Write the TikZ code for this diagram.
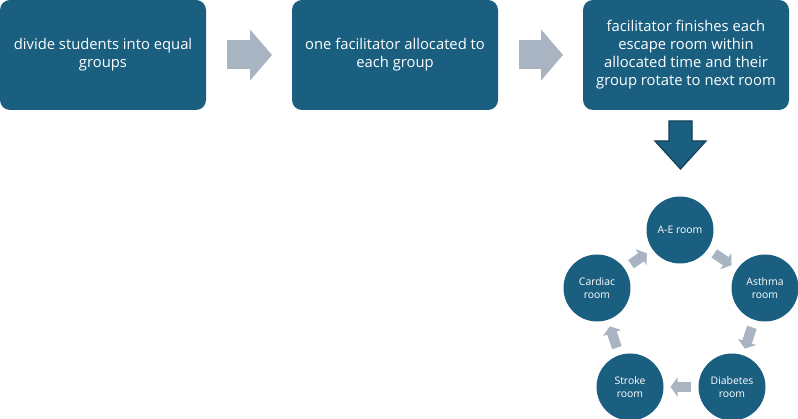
\documentclass[tikz,border=0pt]{standalone}
\usepackage{fontspec}
\setmainfont{Open Sans}
\usetikzlibrary{arrows.meta,calc,positioning}
\definecolor{RoomFill}{HTML}{1B5F80}
\definecolor{RoomEdge}{HTML}{123F56}
\definecolor{RoomArrow}{HTML}{A8B4C2}
\tikzset{
    room/diagram/.style={
        x=1pt, y=-1pt,
        every node/.style={inner sep=0pt, outer sep=0pt}
    },
    room/stepbox/.style={
        fill=RoomFill, draw=none, text=white, rounded corners=10pt,
        minimum width=206pt, minimum height=110pt, align=center,
        font=\fontsize{14.8}{18}\selectfont
    },
    room/station/.style={
        circle, fill=RoomFill, draw=none, text=white,
        minimum size=67pt, align=center,
        font=\fontsize{10.4}{12.5}\selectfont
    },
    room/flow/.style={
        draw=RoomArrow, line width=29pt, line cap=butt,
        -{Triangle[length=22pt, width=50pt]},
        shorten <=21pt, shorten >=20pt
    },
    room/turn/.style={
        draw=RoomArrow, line width=10pt, line cap=butt,
        -{Triangle[length=7pt, width=19pt]},
        shorten <=8pt, shorten >=7pt
    },
    room/down/.style={
        fill=RoomFill, draw=RoomEdge, line width=1.2pt, line join=miter
    }
}
\begin{document}
\begin{tikzpicture}[room/diagram]
    \useasboundingbox (0,0) rectangle (798,419);
    % top row
    \node[room/stepbox] (divide) at (103,55) {divide students into equal\\groups};
    \node[room/stepbox] (allocate) at (395,55) {one facilitator allocated to\\each group};
    \node[room/stepbox] (rotate) at (686,55)
        {facilitator finishes each\\escape room within\\allocated time and their\\group rotate to next room};
    \draw[room/flow] (divide) -- (allocate);
    \draw[room/flow] (allocate) -- (rotate);
    \coordinate (downtip) at ($(rotate.south)+(-5.5,59)$);
    \draw[room/down] (downtip) -- ++(-25.5,-28) -- ++(14,0) -- ++(0,-20)
        -- ++(23,0) -- ++(0,20) -- ++(14,0) -- cycle;
    % rooms
    \node[room/station] (ae) at (680,230) {A-E room};
    \node[room/station] (asthma) at (765,288) {Asthma\\room};
    \node[room/station] (diabetes) at (732,387) {Diabetes\\room};
    \node[room/station] (stroke) at (630,387) {Stroke\\room};
    \node[room/station] (cardiac) at (597,288) {Cardiac\\room};
    \draw[room/turn] (ae) -- (asthma);
    \draw[room/turn] (asthma) -- (diabetes);
    \draw[room/turn] (diabetes) -- (stroke);
    \draw[room/turn] (stroke) -- (cardiac);
    \draw[room/turn] (cardiac) -- (ae);
\end{tikzpicture}
\end{document}
